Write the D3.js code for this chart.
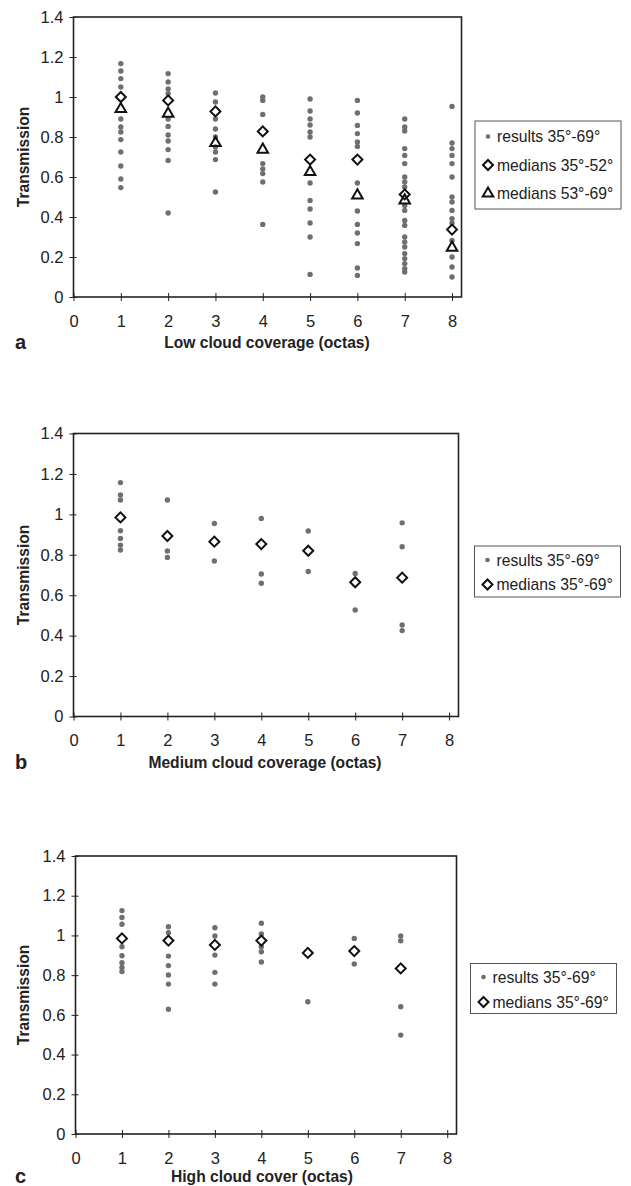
<!DOCTYPE html>
<html>
<head>
<meta charset="utf-8">
<script src="https://cdn.jsdelivr.net/npm/d3@7"></script>
<style>
  body { margin: 0; background: #fff; }
  svg { display: block; font-family: "Liberation Sans", Arial, sans-serif; }
</style>
</head>
<body>
<svg id="fig" width="631" height="1186"></svg>
<script>
// tick labels shared by the three panels
const yTicks = [0, 0.2, 0.4, 0.6, 0.8, 1, 1.2, 1.4];
const yTickLabels = ["0", "0.2", "0.4", "0.6", "0.8", "1", "1.2", "1.4"];
const xTicks = [0, 1, 2, 3, 4, 5, 6, 7, 8];

// panel a - low cloud
const lowOctas = [1, 2, 3, 4, 5, 6, 7, 8];
const lowResults = [
  [1.167, 1.13, 1.092, 1.05, 0.89, 0.85, 0.825, 0.787, 0.725, 0.655, 0.59, 0.547],
  [1.117, 1.075, 1.04, 1.017, 0.89, 0.853, 0.81, 0.78, 0.737, 0.683, 0.42],
  [1.02, 0.975, 0.89, 0.84, 0.8, 0.75, 0.725, 0.687, 0.525],
  [1.0, 0.983, 0.913, 0.667, 0.64, 0.617, 0.575, 0.363],
  [0.99, 0.93, 0.89, 0.86, 0.825, 0.8, 0.57, 0.483, 0.44, 0.37, 0.3, 0.113],
  [0.983, 0.92, 0.858, 0.817, 0.775, 0.753, 0.57, 0.43, 0.363, 0.32, 0.267, 0.145, 0.108],
  [0.89, 0.85, 0.83, 0.742, 0.708, 0.667, 0.6, 0.575, 0.55, 0.458, 0.433, 0.383, 0.358, 0.3, 0.275, 0.25, 0.217, 0.192, 0.167, 0.142, 0.125],
  [0.953, 0.77, 0.742, 0.708, 0.667, 0.6, 0.5, 0.475, 0.433, 0.392, 0.37, 0.283, 0.2, 0.15, 0.1]
];
const lowMedians3552 = [1.0, 0.983, 0.928, 0.828, 0.687, 0.687, 0.513, 0.337];
const lowMedians5369 = [0.94, 0.917, 0.77, 0.737, 0.625, 0.508, 0.483, 0.247];

// panel b - medium cloud
const medOctas = [1, 2, 3, 4, 5, 6, 7];
const medResults = [
  [1.157, 1.096, 1.071, 0.919, 0.881, 0.848, 0.824],
  [1.071, 0.819, 0.787],
  [0.955, 0.769],
  [0.98, 0.705, 0.659],
  [0.918, 0.717],
  [0.708, 0.527],
  [0.958, 0.84, 0.453, 0.425]
];
const medMedians = [0.985, 0.893, 0.865, 0.853, 0.82, 0.664, 0.687];

// panel c - high cloud
const highOctas = [1, 2, 3, 4, 5, 6, 7];
const highResults = [
  [1.125, 1.09, 1.056, 0.943, 0.898, 0.863, 0.839, 0.818],
  [1.044, 1.014, 0.896, 0.848, 0.801, 0.755, 0.628],
  [1.039, 0.997, 0.901, 0.814, 0.755],
  [1.061, 1.007, 0.943, 0.918, 0.866],
  [0.666],
  [0.985, 0.856],
  [0.997, 0.973, 0.641, 0.498]
];
const highMedians = [0.985, 0.974, 0.952, 0.974, 0.912, 0.921, 0.834];

const svg = d3.select("#fig");

const diamond = d3.symbol().type(d3.symbolSquare).size(50);
const triangle = d3.symbol().type(d3.symbolTriangle).size(48);

function flatten(octas, results) {
  const out = [];
  octas.forEach((o, i) => results[i].forEach(v => out.push({x: o, y: v})));
  return out;
}

function drawPanel(p) {
  const g = svg.append("g");
  const x = d3.scaleLinear().domain([0, 8.2]).range([p.left, p.right]);
  const y = d3.scaleLinear().domain([0, 1.4]).range([p.bottom, p.top]);

  // frame
  g.append("rect")
    .attr("x", p.left).attr("y", p.top)
    .attr("width", p.right - p.left).attr("height", p.bottom - p.top)
    .attr("fill", "none").attr("stroke", "#222").attr("stroke-width", 1.6);

  // y axis
  const ya = g.append("g").attr("transform", `translate(${p.left},0)`)
    .call(d3.axisLeft(y).tickValues(yTicks).tickSize(4).tickPadding(6)
      .tickFormat((d, i) => yTickLabels[i]));
  ya.select(".domain").remove();
  ya.selectAll(".tick line").attr("x1", 3).attr("stroke", "#222");
  ya.selectAll(".tick text").attr("font-size", 16.5).attr("fill", "#222")
    .attr("font-family", "Liberation Sans, Arial, sans-serif");

  // x axis
  const xa = g.append("g").attr("transform", `translate(0,${p.bottom})`)
    .call(d3.axisBottom(x).tickValues(xTicks).tickSize(4).tickPadding(14)
      .tickFormat(d3.format("d")));
  xa.select(".domain").remove();
  xa.selectAll(".tick line").attr("y1", -4).attr("stroke", "#222");
  xa.selectAll(".tick text").attr("font-size", 16.5).attr("fill", "#222")
    .attr("font-family", "Liberation Sans, Arial, sans-serif");

  // titles
  g.append("text")
    .attr("transform", `translate(29,${(p.top + p.bottom) / 2}) rotate(-90)`)
    .attr("text-anchor", "middle").attr("font-size", 15.6).attr("font-weight", "bold")
    .attr("fill", "#222").text("Transmission");
  g.append("text")
    .attr("x", p.titleX).attr("y", p.bottom + p.titleDy)
    .attr("text-anchor", "middle").attr("font-size", 15.6).attr("font-weight", "bold")
    .attr("fill", "#222").text(p.xTitle);
  g.append("text")
    .attr("x", 15).attr("y", p.bottom + p.titleDy + 1)
    .attr("font-size", 20).attr("font-weight", "bold")
    .attr("fill", "#222").text(p.letter);

  // results
  g.append("g").selectAll("circle")
    .data(flatten(p.octas, p.results))
    .join("circle")
    .attr("cx", d => x(d.x)).attr("cy", d => y(d.y))
    .attr("r", 2.7).attr("fill", "#6f6f6f");

  // medians
  p.medians.forEach(m => {
    g.append("g").selectAll("path")
      .data(p.octas.map((o, i) => ({x: o, y: m.values[i]})))
      .join("path")
      .attr("d", m.shape === "tri" ? triangle : diamond)
      .attr("transform", d => `translate(${x(d.x)},${y(d.y)})` + (m.shape === "tri" ? "" : " rotate(45)"))
      .attr("fill", "none").attr("stroke", "#111").attr("stroke-width", 2);
  });

  // legend
  const lg = g.append("g");
  const items = [{label: p.resultsLabel, shape: "dot"}].concat(p.medians.map(m => ({label: m.label, shape: m.shape})));
  lg.append("rect")
    .attr("x", p.legendX).attr("y", p.legendY)
    .attr("width", 146).attr("height", p.legendH)
    .attr("fill", "#fff").attr("stroke", "#555").attr("stroke-width", 1);
  items.forEach((it, i) => {
    const cy = p.legendY + p.rowTop + i * p.rowH;
    const mx = p.legendX + 13;
    if (it.shape === "dot") {
      lg.append("circle").attr("cx", mx).attr("cy", cy).attr("r", 2.3).attr("fill", "#6f6f6f");
    } else {
      lg.append("path")
        .attr("d", it.shape === "tri" ? triangle : diamond)
        .attr("transform", `translate(${mx},${cy})` + (it.shape === "tri" ? "" : " rotate(45)"))
        .attr("fill", "none").attr("stroke", "#111").attr("stroke-width", 2);
    }
    lg.append("text")
      .attr("x", mx + 9).attr("y", cy + 5.5)
      .attr("font-size", 15.7).attr("fill", "#222").text(it.label);
  });
}

drawPanel({
  letter: "a", xTitle: "Low cloud coverage (octas)", titleX: 267, titleDy: 51,
  left: 73.5, right: 461.5, top: 17, bottom: 297,
  octas: lowOctas, results: lowResults, resultsLabel: "results 35°-69°",
  medians: [
    {values: lowMedians3552, shape: "dia", label: "medians 35°-52°"},
    {values: lowMedians5369, shape: "tri", label: "medians 53°-69°"}
  ],
  legendX: 475, legendY: 121, legendH: 88, rowTop: 15.5, rowH: 28.5
});

drawPanel({
  letter: "b", xTitle: "Medium cloud coverage (octas)", titleX: 265, titleDy: 51,
  left: 73.5, right: 458.5, top: 433.5, bottom: 716.5,
  octas: medOctas, results: medResults, resultsLabel: "results 35°-69°",
  medians: [{values: medMedians, shape: "dia", label: "medians 35°-69°"}],
  legendX: 474.5, legendY: 546, legendH: 51, rowTop: 14, rowH: 24.5
});

drawPanel({
  letter: "c", xTitle: "High cloud cover (octas)", titleX: 262, titleDy: 48,
  left: 75.5, right: 456.5, top: 856, bottom: 1134,
  octas: highOctas, results: highResults, resultsLabel: "results 35°-69°",
  medians: [{values: highMedians, shape: "dia", label: "medians 35°-69°"}],
  legendX: 470.5, legendY: 963.5, legendH: 50, rowTop: 13.5, rowH: 25
});
</script>
</body>
</html>
